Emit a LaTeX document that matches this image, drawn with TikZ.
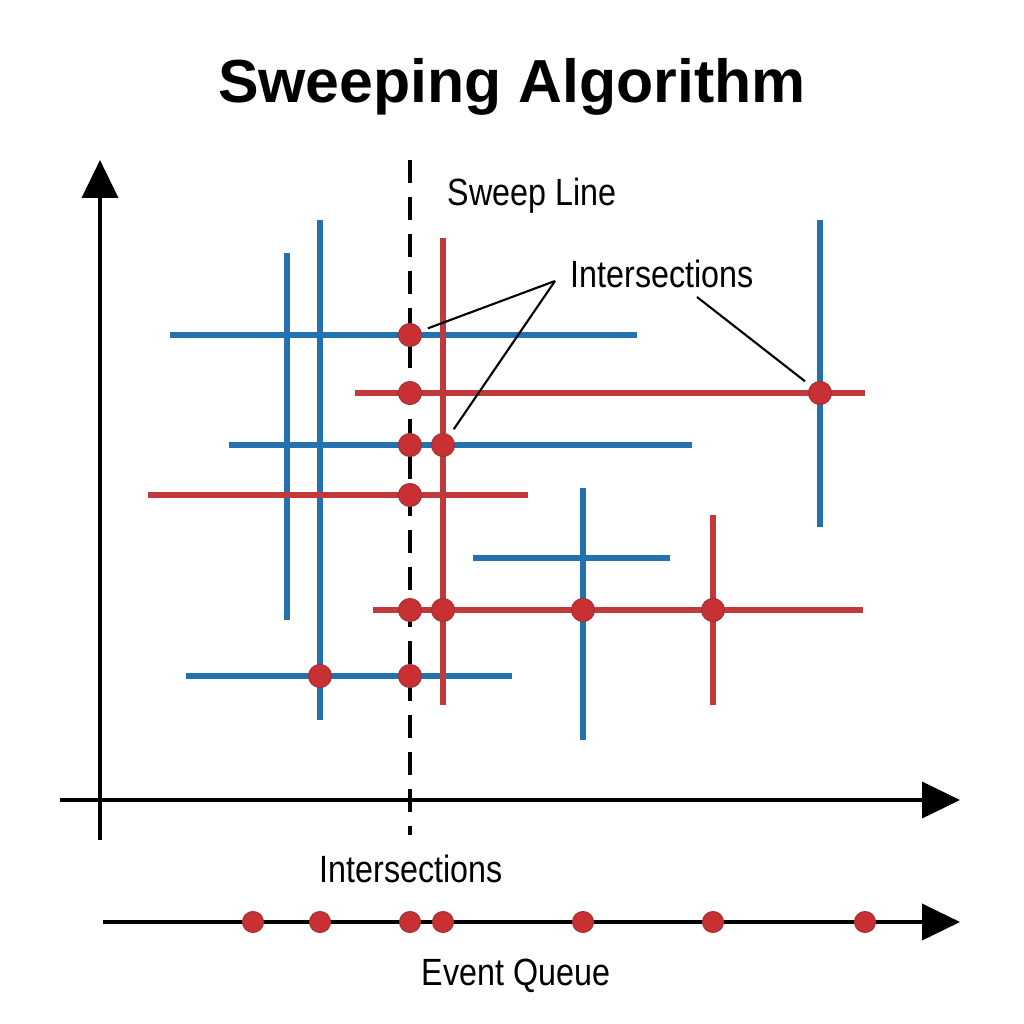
\documentclass[tikz,border=0pt]{standalone}
\usepackage{fontspec}
\setmainfont{Liberation Sans}
\newfontfamily\condfont{Liberation Sans}[FakeStretch=0.85]
\usetikzlibrary{arrows.meta,positioning}
\definecolor{segblue}{RGB}{36,113,176}
\definecolor{segred}{RGB}{192,57,59}
\definecolor{dotred}{RGB}{200,48,52}
\tikzset{every picture/.style={line width=0.75pt}}

\begin{document}
\begin{tikzpicture}[x=0.1mm,y=-0.1mm,
    axis/.style={line width=1.15pt,-{Triangle[length=3.8mm,width=3.6mm]}},
    bseg/.style={segblue,line width=1.45pt},
    rseg/.style={segred,line width=1.45pt},
    hit/.style={circle,fill=dotred,draw=segred!85!black,line width=0.3pt,inner sep=0pt,minimum size=2.3mm},
    qdot/.style={hit,minimum size=2.1mm},
    lbl/.style={font=\condfont\fontsize{10.8}{13}\selectfont,anchor=base},
    leader/.style={line width=0.6pt,shorten >=0.7mm}]
    \useasboundingbox (0,0) rectangle (1024,1024);

    % Title
    \node[font=\bfseries\fontsize{17.3}{21}\selectfont,anchor=base] (title) at (512,103) {Sweeping Algorithm};

    % Axes
    \draw[axis] (100,840) -- (100,160);
    \draw[axis] (60,800) -- (960,800);

    % Sweep line
    \draw[line width=1.35pt,dash pattern=on 2.3mm off 1.4mm] (410,160) -- (410,835);
    \node[lbl] (sweep) at (532,205) {Sweep Line};

    % Blue segments
    \draw[bseg] (170,335) -- (637,335);
    \draw[bseg] (229,445) -- (692,445);
    \draw[bseg] (473,558) -- (670,558);
    \draw[bseg] (186,676) -- (512,676);
    \draw[bseg] (287,253) -- (287,620);
    \draw[bseg] (320,220) -- (320,720);
    \draw[bseg] (583,488) -- (583,740);
    \draw[bseg] (820,220) -- (820,527);

    % Red segments
    \draw[rseg] (355,393) -- (865,393);
    \draw[rseg] (148,495) -- (528,495);
    \draw[rseg] (373,610) -- (863,610);
    \draw[rseg] (443,238) -- (443,705);
    \draw[rseg] (713,515) -- (713,705);

    % Intersection points
    \node[hit] (d1) at (410,335) {};
    \node[hit] (d2) at (410,393) {};
    \node[hit] (d3) at (410,445) {};
    \node[hit] (d4) at (443,445) {};
    \node[hit] (d5) at (410,495) {};
    \node[hit] (d6) at (410,610) {};
    \node[hit] (d7) at (443,610) {};
    \node[hit] (d8) at (583,610) {};
    \node[hit] (d9) at (713,610) {};
    \node[hit] (d10) at (320,676) {};
    \node[hit] (d11) at (410,676) {};
    \node[hit] (d12) at (820,393) {};

    % Labels with leaders
    \node[lbl] (intA) at (662,287) {Intersections};
    \coordinate (fork) at (555,281);
    \coordinate (tail) at (697,297);
    \draw[leader] (fork) -- (d1);
    \draw[leader] (fork) -- (d4);
    \draw[leader] (tail) -- (d12);

    \node[lbl] (intB) at (411,882) {Intersections};

    % Event queue
    \draw[axis] (103,922) -- (960,922);
    \foreach \x [count=\i] in {253,320,410,443,583,713,865}
        \node[qdot] (q\i) at (\x,922) {};
    \node[lbl] (queue) at (516,985) {Event Queue};
\end{tikzpicture}
\end{document}
